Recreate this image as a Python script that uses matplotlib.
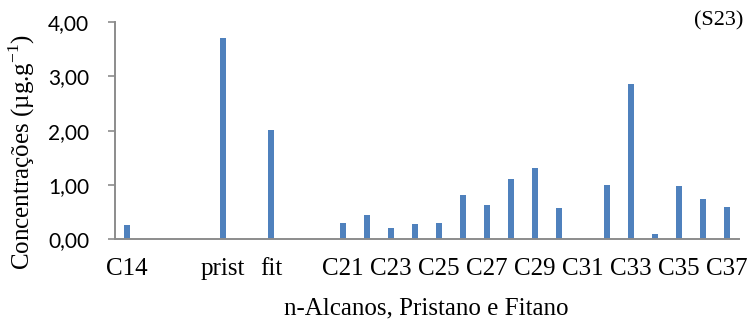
import matplotlib
matplotlib.use("Agg")
import matplotlib.pyplot as plt
import numpy as np

# n-alkanes plus pristane and phytane, in elution order
categories = ["C14", "C15", "C16", "C17", "prist", "C18", "fit", "C19", "C20",
              "C21", "C22", "C23", "C24", "C25", "C26", "C27", "C28", "C29",
              "C30", "C31", "C32", "C33", "C34", "C35", "C36", "C37"]
values = [0.25, 0.0, 0.0, 0.0, 3.71, 0.0, 2.02, 0.0, 0.0,
          0.30, 0.44, 0.20, 0.28, 0.30, 0.81, 0.62, 1.11, 1.31,
          0.57, 0.0, 0.99, 2.87, 0.10, 0.98, 0.74, 0.59]
shown_labels = ["C14", "prist", "fit", "C21", "C23", "C25", "C27", "C29",
                "C31", "C33", "C35", "C37"]
y_ticks = [0.0, 1.0, 2.0, 3.0, 4.0]

bar_color = "#4F81BD"
axis_color = "#8C8C8C"
serif = ["Liberation Serif", "DejaVu Serif"]

fig = plt.figure(figsize=(7.55, 3.21), dpi=100)
ax = fig.add_axes([115 / 755, 82 / 321, 624 / 755, (239 - 22.3) / 321])

x = np.arange(len(categories))
ax.bar(x, values, width=0.25, color=bar_color, zorder=2)

ax.set_xlim(-0.5, len(categories) - 0.5)
ax.set_ylim(0, 4)

# category axis: only some names are printed
ax.set_xticks([categories.index(c) for c in shown_labels])
ax.set_xticklabels(shown_labels, fontfamily=serif, fontsize=18)
ax.tick_params(axis="x", length=0, pad=14)

ax.set_yticks(y_ticks)
ax.set_yticklabels([f"{v:.2f}".replace(".", ",") for v in y_ticks],
                   fontfamily="Lato", fontsize=15)
ax.tick_params(axis="y", direction="out", length=5, width=1.2,
               color=axis_color, pad=13.5)

for side in ("top", "right"):
    ax.spines[side].set_visible(False)
for side in ("left", "bottom"):
    ax.spines[side].set_color(axis_color)
    ax.spines[side].set_linewidth(1.4)

ax.set_ylabel(r"Concentrações (µg.g$^{\mathregular{-1}}$)", fontfamily=serif,
              fontsize=18)
ax.yaxis.set_label_coords(-0.125, 0.404)
ax.set_xlabel("n-Alcanos, Pristano e Fitano", fontfamily=serif, fontsize=18)
ax.xaxis.set_label_coords(0.4985, -0.27)

fig.text(743 / 755, 1 - 21 / 321, "(S23)", ha="right", va="center",
         fontfamily=serif, fontsize=16)

fig.savefig("out.png", dpi=100)
